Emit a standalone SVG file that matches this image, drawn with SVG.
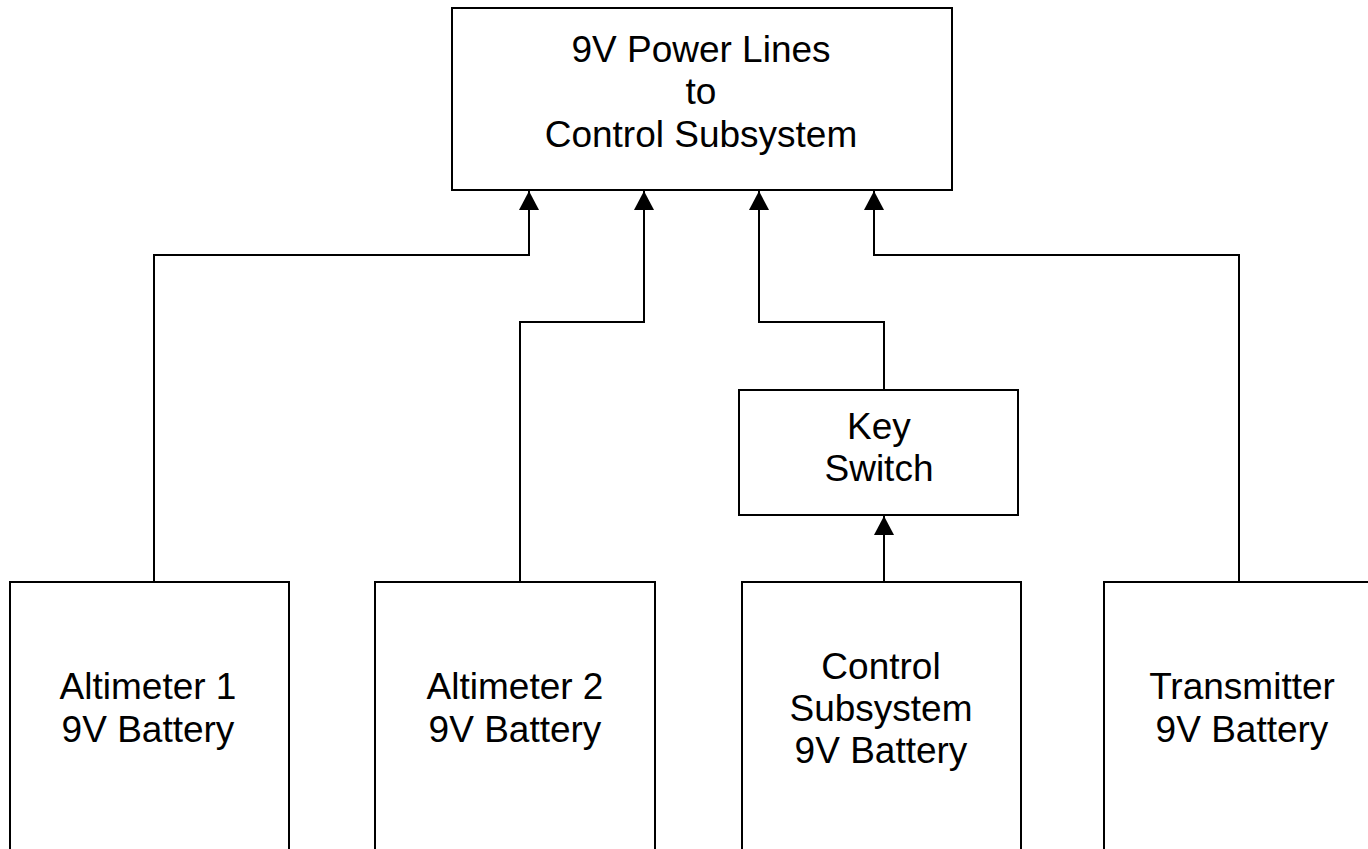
<svg xmlns="http://www.w3.org/2000/svg" width="1368" height="849" viewBox="0 0 1368 849">
<style>
.box{fill:#fff;stroke:#000;stroke-width:2}
.lbl{font-family:"Liberation Sans",Arial,sans-serif;font-size:37px;fill:#000;text-anchor:middle}
.wire{fill:none;stroke:#000;stroke-width:2;marker-end:url(#arr)}
</style>
<defs>
<marker id="arr" markerUnits="userSpaceOnUse" markerWidth="20" markerHeight="20" viewBox="0 0 20 20" refX="19" refY="10" orient="auto">
<path d="M0,0 L19,10 L0,20 z" fill="#000"/>
</marker>
</defs>
<rect width="1368" height="849" fill="#fff"/>
<g id="connectors">
<path class="wire" d="M154,582 V255 H529 V191"/>
<path class="wire" d="M520,582 V322 H644 V191"/>
<path class="wire" d="M884,390 V322 H759 V191"/>
<path class="wire" d="M1239,582 V255 H874 V191"/>
<path class="wire" d="M884,582 V516"/>
</g>
<g id="power-lines">
<rect class="box" x="452" y="8" width="500" height="182"/>
<text class="lbl" x="701" y="62">9V Power Lines</text>
<text class="lbl" x="701" y="104">to</text>
<text class="lbl" x="701" y="147">Control Subsystem</text>
</g>
<g id="key-switch">
<rect class="box" x="739" y="390" width="279" height="125"/>
<text class="lbl" x="879" y="439">Key</text>
<text class="lbl" x="879" y="481">Switch</text>
</g>
<g id="altimeter1">
<rect class="box" x="10" y="582" width="279" height="300"/>
<text class="lbl" x="148" y="699">Altimeter 1</text>
<text class="lbl" x="148" y="742">9V Battery</text>
</g>
<g id="altimeter2">
<rect class="box" x="375" y="582" width="280" height="300"/>
<text class="lbl" x="515" y="699">Altimeter 2</text>
<text class="lbl" x="515" y="742">9V Battery</text>
</g>
<g id="control-battery">
<rect class="box" x="742" y="582" width="279" height="300"/>
<text class="lbl" x="881" y="679">Control</text>
<text class="lbl" x="881" y="721">Subsystem</text>
<text class="lbl" x="881" y="763">9V Battery</text>
</g>
<g id="transmitter">
<rect class="box" x="1104" y="582" width="280" height="300"/>
<text class="lbl" x="1242" y="699">Transmitter</text>
<text class="lbl" x="1242" y="742">9V Battery</text>
</g>
</svg>
